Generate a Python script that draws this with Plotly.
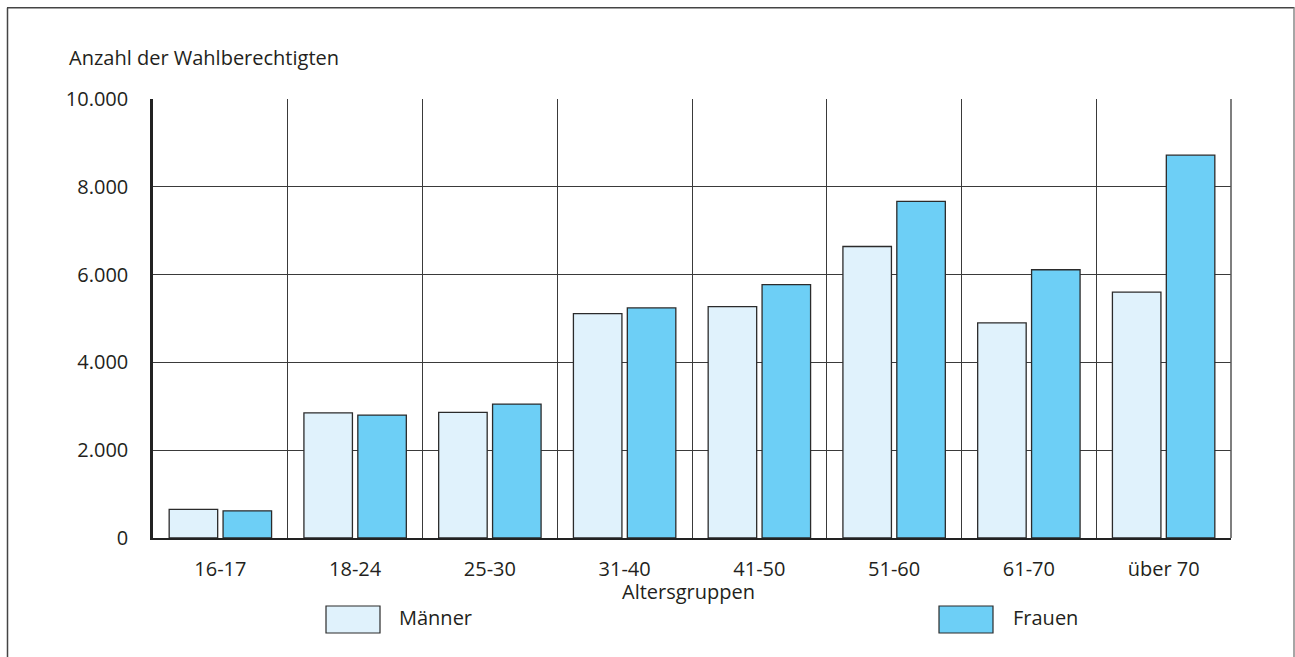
import plotly.graph_objects as go

categories = ["16-17", "18-24", "25-30", "31-40", "41-50", "51-60", "61-70", "über 70"]
maenner = [650, 2850, 2860, 5110, 5270, 6640, 4900, 5600]
frauen = [620, 2800, 3050, 5240, 5770, 7670, 6110, 8720]
y_ticks = [0, 2000, 4000, 6000, 8000, 10000]
y_ticktext = ["0", "2.000", "4.000", "6.000", "8.000", "10.000"]

FONT = "Open Sans"
FS = 20
TXT = "#231f20"
C_M = "#e0f2fc"
C_F = "#6dcff6"
EDGE = "#2b2b2b"

W, H = 1295, 657
# plot area in page coords: x 153..1231, y 99..538
L, T = 153, 99
R = W - 1231
B = H - 538
PW, PH = W - L - R, H - T - B


def px(x):
    return (x - L) / PW


def py(y):
    return (H - B - y) / PH


fig = go.Figure()
fig.add_trace(go.Bar(name="Männer", x=categories, y=maenner,
                     marker=dict(color=C_M, line=dict(color=EDGE, width=1.3))))
fig.add_trace(go.Bar(name="Frauen", x=categories, y=frauen,
                     marker=dict(color=C_F, line=dict(color=EDGE, width=1.3))))

fig.update_layout(
    width=W, height=H,
    margin=dict(l=L, r=R, t=T, b=B),
    paper_bgcolor="white", plot_bgcolor="white",
    barmode="group", bargap=0.2, bargroupgap=0.1,
    showlegend=False,
    font=dict(family=FONT, size=FS, color=TXT),
    xaxis=dict(
        type="category", tickson="boundaries",
        showgrid=True, gridcolor="#3a3a3a", gridwidth=1,
        showline=True, linecolor="#222", linewidth=2, mirror=False,
        ticks="", ticklabelstandoff=12,
        tickfont=dict(family=FONT, size=FS, color=TXT),
        range=[-0.5, 7.5],
    ),
    yaxis=dict(
        range=[0, 10000], tickvals=y_ticks, ticktext=y_ticktext,
        showgrid=True, gridcolor="#3a3a3a", gridwidth=1,
        showline=True, linecolor="#222", linewidth=2.5,
        zeroline=False,
        ticks="outside", ticklen=18, tickcolor="rgba(0,0,0,0)",
        tickfont=dict(family=FONT, size=FS, color=TXT),
    ),
    shapes=[
        # right border of plot area
        dict(type="line", xref="paper", yref="paper", x0=1, x1=1, y0=0, y1=1,
             line=dict(color="#555", width=1.5)),
        # outer frame
        dict(type="line", xref="paper", yref="paper", x0=px(7), x1=px(1294.5), y0=py(7.8), y1=py(7.8),
             line=dict(color="#444", width=1.5)),
        dict(type="line", xref="paper", yref="paper", x0=px(7.5), x1=px(7.5), y0=py(7.8), y1=py(680),
             line=dict(color="#444", width=1.5)),
        dict(type="line", xref="paper", yref="paper", x0=px(1294), x1=px(1294), y0=py(7.8), y1=py(680),
             line=dict(color="#888", width=1.5)),
        # legend boxes
        dict(type="rect", xref="paper", yref="paper", x0=px(326), x1=px(380), y0=py(633), y1=py(606),
             fillcolor=C_M, line=dict(color=EDGE, width=1.2)),
        dict(type="rect", xref="paper", yref="paper", x0=px(939), x1=px(993), y0=py(633), y1=py(606),
             fillcolor=C_F, line=dict(color=EDGE, width=1.2)),
    ],
    annotations=[
        dict(text="Anzahl der Wahlberechtigten", xref="paper", yref="paper",
             x=px(67), y=py(57), xanchor="left", yanchor="middle", showarrow=False,
             font=dict(family=FONT, size=FS, color=TXT)),
        dict(text="Altersgruppen", xref="paper", yref="paper",
             x=px(688), y=py(591), xanchor="center", yanchor="middle", showarrow=False,
             font=dict(family=FONT, size=FS, color=TXT)),
        dict(text="Männer", xref="paper", yref="paper",
             x=px(397), y=py(617), xanchor="left", yanchor="middle", showarrow=False,
             font=dict(family=FONT, size=FS, color=TXT)),
        dict(text="Frauen", xref="paper", yref="paper",
             x=px(1011), y=py(617), xanchor="left", yanchor="middle", showarrow=False,
             font=dict(family=FONT, size=FS, color=TXT)),
    ],
)

fig.write_html("out.html", config={"displayModeBar": False},
               post_script="document.body.style.margin='0';")
